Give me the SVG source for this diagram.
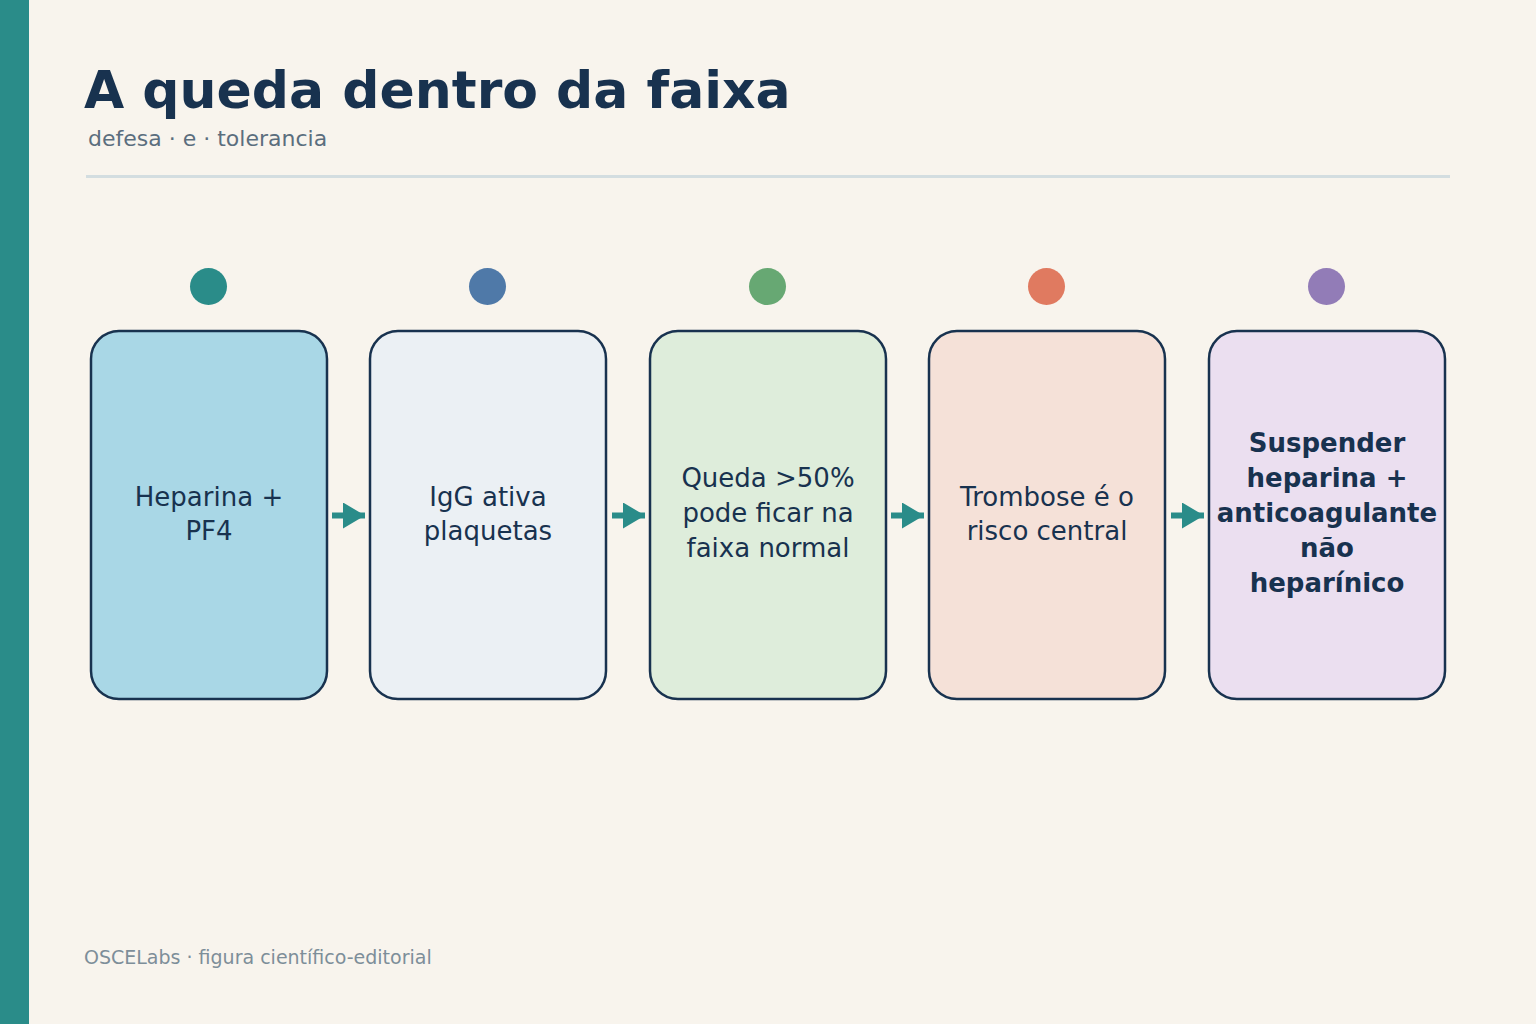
<svg xmlns="http://www.w3.org/2000/svg" width="1536" height="1024" viewBox="0 0 1536 1024">
<style>
text{font-family:"DejaVu Sans","Liberation Sans",sans-serif;fill:#18324f}
.box{stroke:#18324f;stroke-width:2.5}
.lbl{font-size:26px;text-anchor:middle}
.b{font-weight:bold}
.con{stroke:#2a8c89;stroke-width:6;fill:none}
</style>
<defs><marker id="ah" markerUnits="userSpaceOnUse" markerWidth="24" markerHeight="28" refX="22" refY="13" orient="auto"><path d="M0,0 L22,13 L0,26 Z" fill="#2a8c89"/></marker></defs>
<rect width="1536" height="1024" fill="#f8f4ed"/>
<rect width="29" height="1024" fill="#2a8c89"/>
<text x="84" y="108" font-size="52" font-weight="bold">A queda dentro da faixa</text>
<text x="88" y="146" font-size="22" style="fill:#5b6e7e">defesa · e · tolerancia</text>
<line x1="86" y1="176.500" x2="1450" y2="176.500" stroke="#d3dde0" stroke-width="3"/>
<g id="n1"><circle cx="208.500" cy="286.500" r="18.500" fill="#2a8c89"/><rect class="box" x="91" y="331" width="236" height="368" rx="28" fill="#a9d7e6"/><text class="lbl" x="209" y="506">Heparina +</text><text class="lbl" x="209" y="540">PF4</text></g>
<g id="n2"><circle cx="487.500" cy="286.500" r="18.500" fill="#4f79a8"/><rect class="box" x="370" y="331" width="236" height="368" rx="28" fill="#ebf0f4"/><text class="lbl" x="488" y="506">IgG ativa</text><text class="lbl" x="488" y="540">plaquetas</text></g>
<g id="n3"><circle cx="767.500" cy="286.500" r="18.500" fill="#67a873"/><rect class="box" x="650" y="331" width="236" height="368" rx="28" fill="#deeddb"/><text class="lbl" x="768" y="487">Queda &gt;50%</text><text class="lbl" x="768" y="522">pode ficar na</text><text class="lbl" x="768" y="557">faixa normal</text></g>
<g id="n4"><circle cx="1046.500" cy="286.500" r="18.500" fill="#e07a60"/><rect class="box" x="929" y="331" width="236" height="368" rx="28" fill="#f5e1d8"/><text class="lbl" x="1047" y="506">Trombose é o</text><text class="lbl" x="1047" y="540">risco central</text></g>
<g id="n5"><circle cx="1326.500" cy="286.500" r="18.500" fill="#927cb7"/><rect class="box" x="1209" y="331" width="236" height="368" rx="28" fill="#ebdff0"/><text class="lbl b" x="1327" y="452">Suspender</text><text class="lbl b" x="1327" y="487">heparina +</text><text class="lbl b" x="1327" y="522">anticoagulante</text><text class="lbl b" x="1327" y="557">não</text><text class="lbl b" x="1327" y="592">heparínico</text></g>
<g id="connectors">
<line class="con" x1="332" y1="515.500" x2="365" y2="515.500" marker-end="url(#ah)"/>
<line class="con" x1="612" y1="515.500" x2="645" y2="515.500" marker-end="url(#ah)"/>
<line class="con" x1="891" y1="515.500" x2="924" y2="515.500" marker-end="url(#ah)"/>
<line class="con" x1="1171" y1="515.500" x2="1204" y2="515.500" marker-end="url(#ah)"/>
</g>
<text x="84" y="964" font-size="19" style="fill:#7d8e99">OSCELabs · figura científico-editorial</text>
</svg>
